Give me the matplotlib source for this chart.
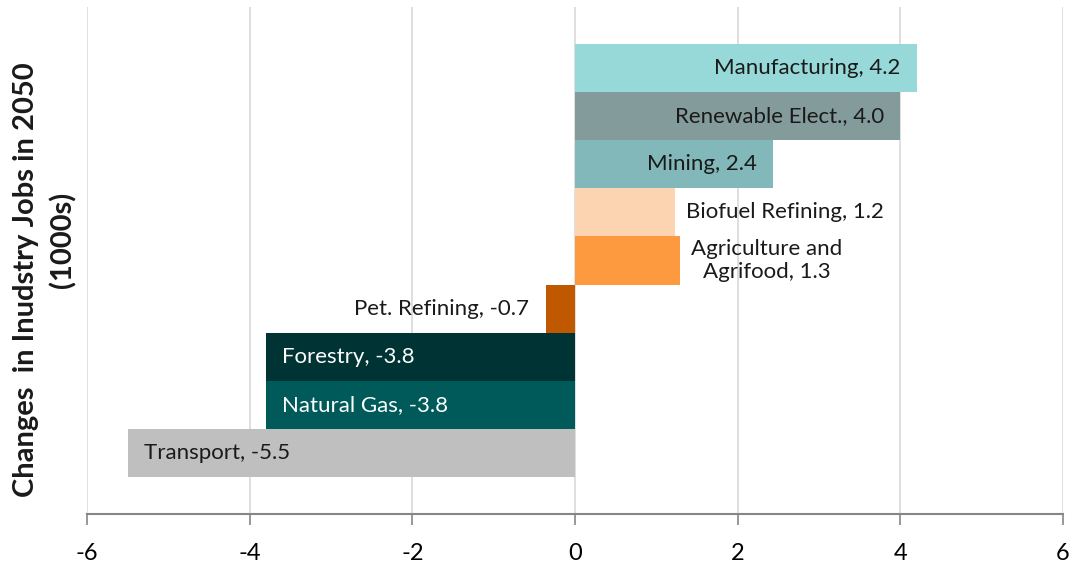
import matplotlib
matplotlib.use("Agg")
import matplotlib.pyplot as plt

categories = ["Manufacturing", "Renewable Elect.", "Mining", "Biofuel Refining",
              "Agriculture and\nAgrifood", "Pet. Refining", "Forestry", "Natural Gas", "Transport"]
values = [4.2, 4.0, 2.43, 1.23, 1.29, -0.36, -3.8, -3.8, -5.5]
value_labels = ["4.2", "4.0", "2.4", "1.2", "1.3", "-0.7", "-3.8", "-3.8", "-5.5"]
colors = ["#97D9D9", "#839C9B", "#82B8B9", "#FDD4B1", "#FD9A40", "#C05800", "#003434", "#005A5A", "#BFBFBF"]
xticks = [-6, -4, -2, 0, 2, 4, 6]
ylabel_lines = ["Changes  in Inudstry Jobs in 2050", "(1000s)"]

plt.rcParams['font.family'] = ['Lato', 'DejaVu Sans']

W, H = 1073, 567
fig = plt.figure(figsize=(W / 100, H / 100), dpi=100)
ax = fig.add_axes([0.0811, 0.0935, 0.9096, 0.8942])

n = len(categories)
ypos = list(range(n - 1, -1, -1))
ax.barh(ypos, values, height=1.0, color=colors, zorder=2)

ax.set_xlim(-6, 6)
ax.set_ylim(-1.27, n - 1 + 1.27)
ax.set_xticks(xticks)
ax.set_xticklabels([str(t) for t in xticks], fontsize=17)
ax.set_yticks([])
ax.grid(axis='x', color='#D9D9D9', linewidth=1.2, zorder=0)
for s in ['top', 'right', 'left']:
    ax.spines[s].set_visible(False)
ax.spines['bottom'].set_color('#868686')
ax.spines['bottom'].set_linewidth(1.5)
ax.tick_params(axis='x', direction='out', length=8, width=1.2, color='#868686', pad=13)

# y-axis title (two lines, positioned as in the reference)
fig.text(26 / W, 1 - 280 / H, ylabel_lines[0], rotation=90, ha='center', va='center',
         fontsize=21, fontweight='bold', color='#1a1a1a')
fig.text(63 / W, 1 - 240 / H, ylabel_lines[1], rotation=90, ha='center', va='center',
         fontsize=21, fontweight='bold', color='#1a1a1a')

fs = 16
pad = 0.2
# placement per bar: 'in' = inside end, 'out' = outside end
placement = ['in', 'in', 'in', 'out', 'out', 'out', 'in', 'in', 'in']
for y, v, cat, lab, c, pl in zip(ypos, values, categories, value_labels, colors, placement):
    txt = f"{cat}, {lab}"
    tc = 'white' if c in ("#003434", "#005A5A") else '#1a1a1a'
    if pl == 'in':
        if v > 0:
            ax.text(v - pad, y, txt, ha='right', va='center', fontsize=fs, color=tc, zorder=3)
        else:
            ax.text(v + pad, y, txt, ha='left', va='center', fontsize=fs, color=tc, zorder=3)
    else:
        if v > 0:
            ax.text(v + 0.14, y, txt, ha='left', va='center', fontsize=fs, color=tc, zorder=3,
                    multialignment='center')
        else:
            ax.text(v - pad, y, txt, ha='right', va='center', fontsize=fs, color=tc, zorder=3)

fig.savefig("out.png", dpi=100)
